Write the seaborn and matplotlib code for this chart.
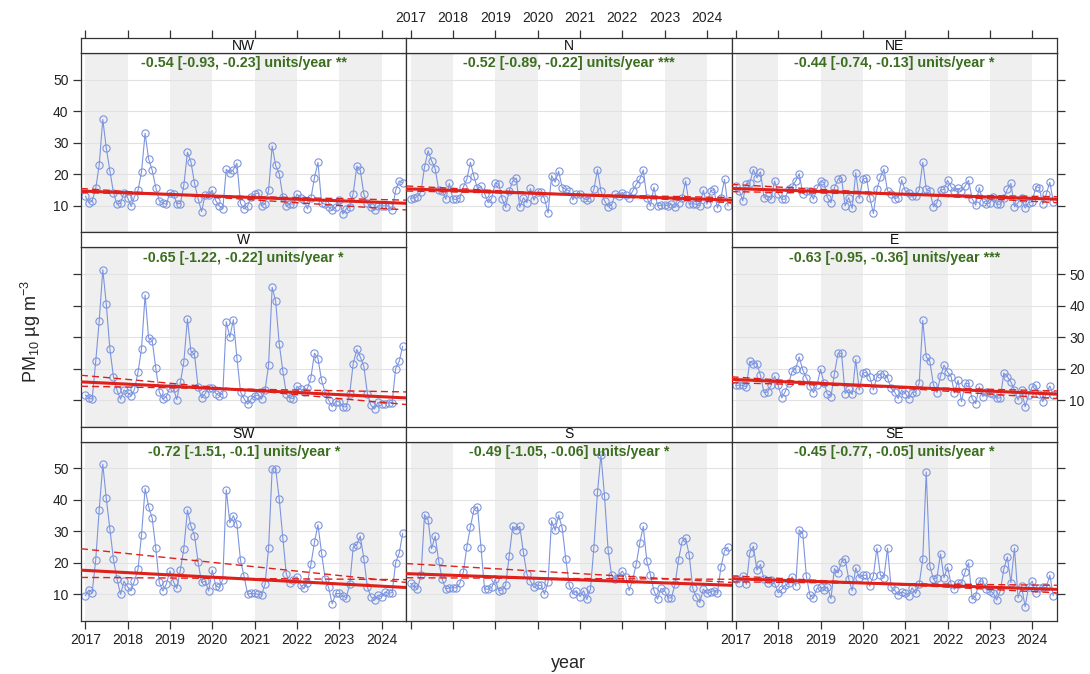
import numpy as np
import pandas as pd
import matplotlib
matplotlib.use("Agg")
import matplotlib.pyplot as plt
import matplotlib.dates as mdates
import seaborn as sns

sns.set_theme(style="white")
plt.rcParams["font.family"] = ["Liberation Sans", "DejaVu Sans"]
plt.rcParams["mathtext.default"] = "regular"

# ---------------- data (monthly means, Jan 2017 onwards) ----------------
panel_order = ["NW", "N", "NE", "W", None, "E", "SW", "S", "SE"]

NW = [13.1, 11.0, 11.5, 15.5, 23.0, 37.4, 28.3, 21.2, 14.2, 10.5, 10.8, 14.2,
      12.6, 9.8, 12.9, 14.9, 20.8, 33.0, 24.9, 21.3, 15.8, 11.6, 10.8, 10.5,
      14.2, 13.7, 10.7, 10.7, 16.5, 27.0, 24.0, 17.2, 12.3, 8.2, 13.5, 13.5,
      14.9, 11.6, 10.0, 9.0, 21.6, 20.3, 21.5, 23.5, 10.8, 9.0, 10.0, 12.9,
      13.7, 14.1, 10.0, 10.7, 14.9, 29.0, 22.8, 20.2, 12.9, 9.8, 10.7, 10.5,
      13.7, 12.6, 11.8, 9.0, 12.4, 18.9, 23.8, 11.0, 10.5, 9.7, 8.6, 9.5,
      11.9, 7.4, 9.0, 9.7, 13.9, 22.6, 21.3, 13.7, 10.8, 9.7, 8.6, 10.0,
      10.0, 10.0, 10.0, 8.7, 14.9, 17.9, 17.3]
N = [12.3, 12.6, 12.9, 14.5, 22.3, 27.5, 24.3, 21.8, 15.0, 14.7, 12.1, 17.1,
     12.1, 12.1, 12.4, 16.0, 18.4, 23.8, 19.4, 15.5, 16.2, 13.9, 11.0, 12.3,
     17.3, 16.8, 12.3, 9.5, 14.7, 17.8, 18.8, 9.5, 12.6, 11.0, 15.5, 11.8,
     14.4, 14.4, 12.3, 7.7, 19.6, 17.5, 21.0, 15.8, 15.2, 14.7, 11.9, 13.9,
     13.9, 12.4, 11.9, 12.6, 15.2, 21.5, 14.7, 11.6, 9.7, 10.3, 13.7, 13.1,
     14.2, 13.4, 12.6, 14.7, 16.8, 18.4, 21.4, 12.6, 10.0, 15.9, 10.0, 10.2,
     10.3, 10.0, 10.5, 9.5, 11.0, 12.4, 17.9, 10.5, 10.7, 10.5, 10.0, 14.9,
     10.5, 14.7, 15.2, 9.3, 12.6, 18.4, 10.0]
NE = [16.3, 14.7, 11.6, 17.0, 17.3, 21.5, 18.9, 20.8, 12.6, 13.1, 12.3, 17.9,
      13.9, 12.1, 12.1, 15.4, 16.0, 17.9, 20.2, 13.9, 14.7, 14.7, 12.1, 15.5,
      17.9, 17.3, 12.6, 11.0, 15.8, 18.4, 18.9, 10.0, 12.6, 9.2, 20.5, 12.3,
      18.4, 18.9, 12.6, 7.6, 15.2, 19.1, 21.7, 14.7, 13.9, 12.3, 12.6, 18.3,
      14.7, 14.2, 13.1, 13.1, 15.0, 23.8, 15.2, 14.7, 9.7, 11.0, 15.0, 15.2,
      18.1, 16.0, 14.7, 15.5, 14.7, 16.3, 18.1, 12.3, 10.2, 15.8, 11.3, 10.5,
      11.0, 12.9, 10.5, 10.5, 12.6, 15.2, 17.1, 9.7, 11.0, 12.6, 9.3, 11.0,
      11.3, 16.1, 15.8, 10.5, 13.7, 17.5, 11.3]
W = [11.6, 10.7, 10.3, 22.3, 35.1, 51.4, 40.5, 26.3, 17.4, 13.2, 10.3, 13.2,
     12.4, 11.4, 13.4, 18.9, 26.3, 43.4, 29.7, 28.9, 20.2, 12.6, 10.3, 11.1,
     14.0, 13.7, 10.2, 15.6, 22.1, 35.8, 25.5, 24.5, 14.2, 10.7, 12.1, 14.0,
     13.9, 12.1, 11.4, 12.1, 34.9, 30.0, 35.5, 23.4, 12.6, 10.5, 8.7, 10.3,
     11.4, 11.6, 10.3, 13.2, 21.1, 45.8, 41.4, 27.9, 19.2, 12.1, 10.7, 10.5,
     14.4, 13.4, 12.6, 13.7, 17.1, 24.9, 23.2, 16.3, 12.4, 10.0, 7.9, 9.5,
     9.5, 7.9, 7.9, 12.1, 21.6, 26.1, 23.7, 20.7, 11.9, 8.4, 7.2, 9.3,
     8.9, 8.9, 9.2, 9.2, 20.0, 22.3, 27.1]
E = [14.7, 14.7, 14.7, 14.2, 22.3, 21.6, 21.6, 17.9, 12.3, 12.6, 14.7, 17.6,
     14.7, 10.7, 12.6, 15.3, 19.1, 20.0, 23.7, 19.5, 17.1, 14.5, 12.4, 14.7,
     19.8, 15.3, 11.9, 11.1, 18.4, 24.9, 24.9, 12.1, 13.4, 11.8, 22.9, 13.2,
     18.6, 18.9, 17.4, 13.2, 17.4, 18.4, 18.2, 17.1, 13.7, 12.6, 10.5, 13.2,
     12.1, 10.5, 12.4, 12.6, 15.3, 35.3, 23.7, 22.3, 14.9, 12.4, 17.6, 21.1,
     18.9, 17.4, 12.3, 16.3, 9.5, 15.3, 15.3, 10.5, 8.9, 14.2, 11.1, 12.6,
     12.4, 11.9, 10.7, 10.7, 18.6, 17.4, 15.8, 13.2, 10.0, 13.2, 7.9, 11.6,
     14.2, 14.7, 12.1, 9.5, 12.1, 14.5, 11.6]
SW = [9.6, 11.4, 10.5, 21.0, 36.8, 51.3, 40.5, 30.8, 21.1, 15.0, 10.0, 14.2,
      12.4, 11.2, 14.3, 18.0, 28.9, 43.6, 37.9, 34.2, 24.7, 13.8, 11.1, 13.3,
      17.5, 14.0, 11.9, 17.7, 24.5, 36.8, 31.8, 28.7, 20.3, 13.8, 14.2, 11.1,
      17.7, 12.7, 12.2, 14.7, 43.2, 32.7, 35.0, 32.2, 20.8, 15.9, 10.1, 10.3,
      10.3, 10.0, 9.8, 13.3, 24.7, 49.9, 49.9, 40.3, 27.9, 16.4, 13.5, 14.7,
      15.6, 12.9, 11.9, 13.7, 19.5, 26.6, 32.1, 23.2, 15.0, 12.2, 7.0, 10.3,
      10.3, 9.5, 8.9, 13.2, 25.0, 25.8, 28.5, 21.3, 12.2, 9.3, 8.2, 9.8,
      9.3, 10.8, 10.3, 10.6, 20.1, 23.1, 29.4]
S = [13.5, 12.6, 11.7, 16.1, 35.3, 33.7, 24.5, 28.5, 20.5, 14.8, 11.7, 12.1,
     12.1, 12.1, 13.5, 17.1, 25.0, 31.5, 36.8, 37.8, 24.7, 11.6, 11.7, 12.2,
     14.8, 11.2, 11.4, 12.9, 22.1, 31.6, 30.5, 31.6, 23.4, 16.4, 14.2, 12.2,
     12.9, 12.9, 10.1, 14.0, 33.4, 30.3, 35.2, 31.0, 21.1, 12.9, 10.1, 11.2,
     9.3, 11.2, 8.4, 11.6, 24.8, 42.4, 54.4, 41.1, 24.0, 16.1, 15.0, 15.6,
     17.4, 15.6, 11.2, 14.8, 19.5, 26.3, 31.6, 20.5, 16.3, 11.2, 8.5, 11.9,
     11.2, 8.9, 8.9, 13.2, 21.0, 26.8, 27.9, 22.6, 11.9, 9.3, 7.4, 11.7,
     10.3, 10.8, 11.2, 10.6, 18.7, 23.8, 25.0]
SE = [15.0, 13.7, 15.9, 13.2, 23.2, 25.3, 17.7, 19.5, 14.8, 13.5, 14.5, 13.5,
      10.5, 11.6, 12.9, 13.5, 15.6, 12.7, 30.5, 29.2, 15.8, 9.8, 8.9, 11.9,
      12.2, 11.4, 12.4, 8.7, 18.2, 16.8, 20.3, 21.3, 15.0, 11.2, 18.4, 15.3,
      16.1, 16.1, 12.6, 15.9, 24.7, 16.1, 15.3, 24.7, 12.2, 11.4, 9.8, 10.8,
      10.3, 9.6, 12.1, 10.3, 13.2, 21.3, 48.9, 19.0, 14.8, 15.3, 22.9, 15.3,
      18.7, 13.2, 11.6, 13.5, 13.7, 17.1, 20.0, 8.5, 9.6, 14.3, 14.2, 11.6,
      11.2, 10.3, 8.2, 11.2, 18.0, 21.9, 13.7, 24.7, 8.9, 12.6, 6.1, 12.4,
      14.2, 10.6, 11.9, 12.4, 12.2, 16.1, 9.6]

series = {"NW": NW, "N": N, "NE": NE, "W": W, "E": E, "SW": SW, "S": S, "SE": SE}

# Theil-Sen slope annotation: slope, lower, upper, significance
slope = {"NW": "-0.54", "N": "-0.52", "NE": "-0.44", "W": "-0.65",
         "E": "-0.63", "SW": "-0.72", "S": "-0.49", "SE": "-0.45"}
slope_lo = {"NW": "-0.93", "N": "-0.89", "NE": "-0.74", "W": "-1.22",
            "E": "-0.95", "SW": "-1.51", "S": "-1.05", "SE": "-0.77"}
slope_hi = {"NW": "-0.23", "N": "-0.22", "NE": "-0.13", "W": "-0.22",
            "E": "-0.36", "SW": "-0.1", "S": "-0.06", "SE": "-0.05"}
stars = {"NW": "**", "N": "***", "NE": "*", "W": "*",
         "E": "***", "SW": "*", "S": "*", "SE": "*"}

# trend line levels (ug m-3) at start / end of the plotted period
trend_start = {"NW": 14.7, "N": 15.4, "NE": 15.5, "W": 15.8, "E": 16.6, "SW": 17.7, "S": 16.6, "SE": 15.0}
trend_end = {"NW": 10.8, "N": 11.8, "NE": 12.1, "W": 10.7, "E": 11.9, "SW": 12.2, "S": 12.9, "SE": 11.6}
lower_start = {"NW": 15.5, "N": 16.3, "NE": 16.8, "W": 17.9, "E": 17.4, "SW": 24.5, "S": 19.8, "SE": 15.9}
lower_end = {"NW": 8.7, "N": 11.0, "NE": 11.0, "W": 8.6, "E": 10.5, "SW": 13.8, "S": 13.8, "SE": 10.5}
upper_start = {"NW": 14.2, "N": 14.7, "NE": 14.5, "W": 14.4, "E": 15.5, "SW": 15.4, "S": 15.3, "SE": 14.0}
upper_end = {"NW": 11.8, "N": 12.6, "NE": 12.9, "W": 12.6, "E": 12.9, "SW": 14.7, "S": 14.8, "SE": 12.9}

years = list(range(2017, 2025))
y_ticks = [10, 20, 30, 40, 50]

# ---------------- styling ----------------
BLUE = "#7d95df"
RED = "#e0201b"
GREEN = "#3b6e1e"
SHADE = "#efefef"
GRID = "#e2e2e2"
EDGE = "#333333"

FW, FH = 1090, 674
fig = plt.figure(figsize=(FW / 100, FH / 100), dpi=100)

col_left = [81.0, 406.3, 731.6]
col_w = 325.3
row_top = [38.0, 232.3, 426.6]
row_h = 194.3
strip_h = 15.0

x_lo = pd.Timestamp("2016-11-25")
x_hi = pd.Timestamp("2024-08-01")
y_lo, y_hi = 1.6, 58.5

for k, name in enumerate(panel_order):
    if name is None:
        continue
    r, c = divmod(k, 3)
    L = col_left[c] / FW
    Wd = col_w / FW
    plot_b = 1 - (row_top[r] + row_h) / FH
    plot_h = (row_h - strip_h) / FH
    strip_b = 1 - (row_top[r] + strip_h) / FH

    ax = fig.add_axes([L, plot_b, Wd, plot_h])
    sax = fig.add_axes([L, strip_b, Wd, strip_h / FH])

    # shading of alternate years
    for yr in years[::2]:
        ax.axvspan(pd.Timestamp(f"{yr}-01-01"), pd.Timestamp(f"{yr + 1}-01-01"),
                   color=SHADE, lw=0, zorder=0)
    for yt in y_ticks:
        ax.axhline(yt, color=GRID, lw=0.8, zorder=0.5)

    vals = series[name]
    dates = pd.date_range("2017-01-01", periods=len(vals), freq="MS")
    df = pd.DataFrame({"date": dates, "value": vals})
    sns.lineplot(data=df, x="date", y="value", ax=ax, color=BLUE, lw=0.8,
                 marker="o", markersize=5.2, markerfacecolor="none",
                 markeredgecolor=BLUE, markeredgewidth=0.8, zorder=2,
                 estimator=None)

    tx = [x_lo, x_hi]
    ax.plot(tx, [trend_start[name], trend_end[name]], color=RED, lw=2.2, zorder=3)
    ax.plot(tx, [lower_start[name], lower_end[name]], color=RED, lw=1.0,
            ls=(0, (5, 3)), zorder=3)
    ax.plot(tx, [upper_start[name], upper_end[name]], color=RED, lw=1.0,
            ls=(0, (5, 3)), zorder=3)

    label = f"{slope[name]} [{slope_lo[name]}, {slope_hi[name]}] units/year {stars[name]}"
    ax.text(0.5, 1 - 10.5 / (row_h - strip_h), label, transform=ax.transAxes,
            ha="center", va="center", color=GREEN, fontweight="bold",
            fontsize=10.3, zorder=5)

    ax.set_xlim(x_lo, x_hi)
    ax.set_ylim(y_lo, y_hi)
    ax.set_xlabel("")
    ax.set_ylabel("")
    ax.set_yticks(y_ticks)
    ax.xaxis.set_major_locator(mdates.YearLocator())
    ax.xaxis.set_major_formatter(mdates.DateFormatter("%Y"))
    ax.grid(False)
    for sp in ax.spines.values():
        sp.set_color(EDGE)
        sp.set_linewidth(0.9)

    ax.tick_params(axis="both", which="both", direction="out", length=6,
                   width=0.9, color=EDGE, labelsize=10, labelcolor="#222222",
                   pad=3)
    ax.tick_params(axis="x", top=False, labeltop=False,
                   bottom=(r == 2), labelbottom=(r == 2 and c != 1))
    ax.tick_params(axis="y", left=(c == 0), labelleft=(c == 0 and r != 1),
                   right=(c == 2), labelright=(c == 2 and r == 1))

    # strip
    sax.set_facecolor("white")
    sax.set_xlim(x_lo, x_hi)
    sax.set_ylim(0, 1)
    sax.set_yticks([])
    sax.xaxis.set_major_locator(mdates.YearLocator())
    sax.xaxis.set_major_formatter(mdates.DateFormatter("%Y"))
    sax.tick_params(axis="x", direction="out", length=6, width=0.9, color=EDGE,
                    labelsize=10, labelcolor="#222222", pad=3,
                    bottom=False, labelbottom=False,
                    top=(r == 0), labeltop=(r == 0 and c == 1))
    for sp in sax.spines.values():
        sp.set_color(EDGE)
        sp.set_linewidth(0.9)
    sax.text(0.5, 0.5, name, transform=sax.transAxes, ha="center", va="center",
             fontsize=10, color="#111111")

fig.text(31 / FW, 1 - 331 / FH, r"PM$_{10}$ µg m$^{-3}$", rotation=90,
         ha="center", va="center", fontsize=13)
fig.text(568 / FW, 1 - 663 / FH, "year", ha="center", va="center", fontsize=13)

fig.savefig("out.png", dpi=100)
